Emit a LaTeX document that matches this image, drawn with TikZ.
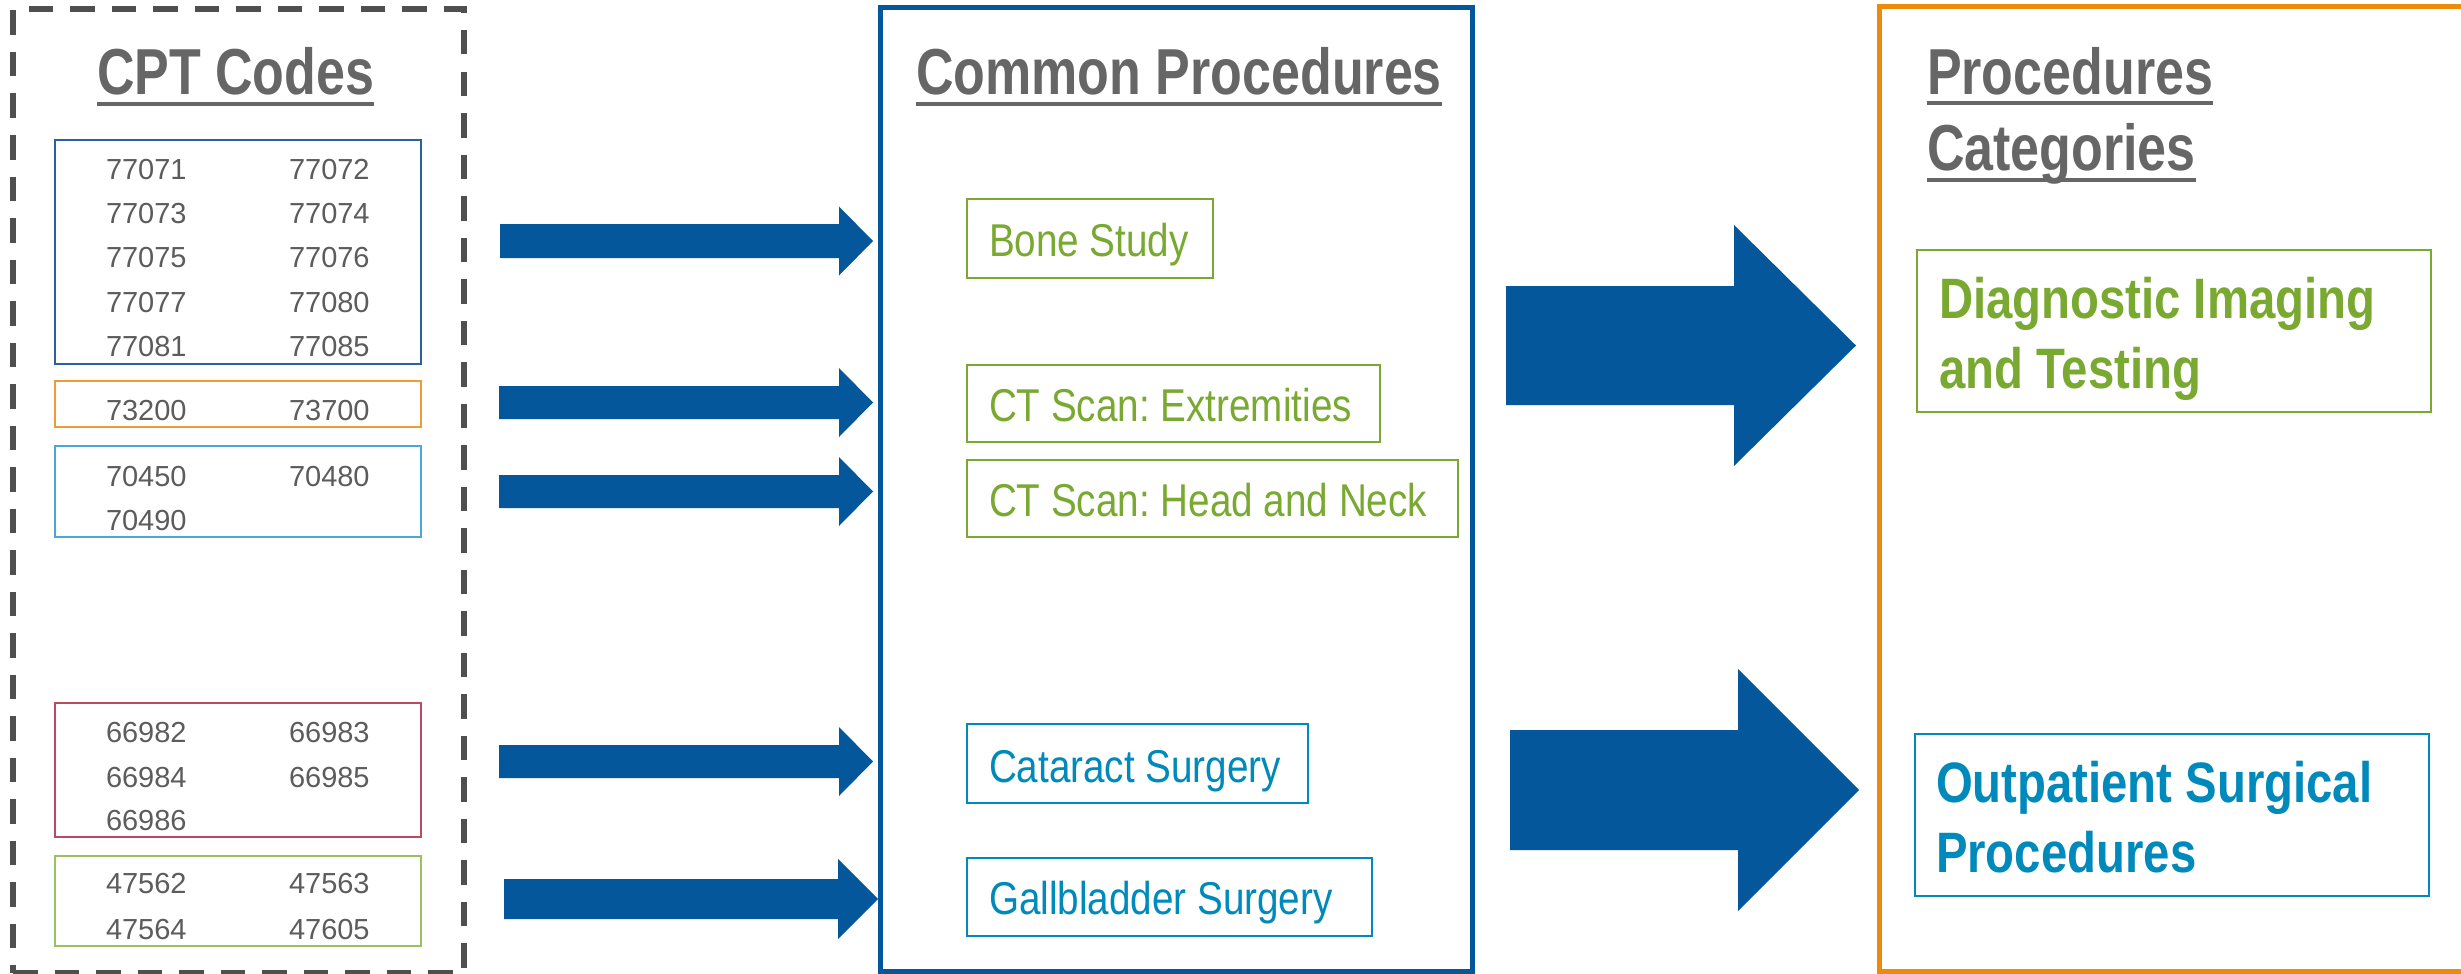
\documentclass[tikz,border=0pt]{standalone}
\usepackage{fontspec}
\setmainfont{Liberation Sans}
\newfontfamily\ttlfont{Liberation Sans}[FakeStretch=0.80]
\newfontfamily\catfont{Liberation Sans}[FakeStretch=0.83]
\newfontfamily\procfont{Liberation Sans}[FakeStretch=0.84]
\frenchspacing
\definecolor{ttlgray}{HTML}{666666}
\definecolor{codegray}{HTML}{5C5C5C}
\definecolor{dashgray}{HTML}{4F4F4F}
\definecolor{arrowblue}{HTML}{03579A}
\definecolor{cbA}{HTML}{2A62A0}
\definecolor{cbB}{HTML}{EE9B3A}
\definecolor{cbC}{HTML}{4AA8D6}
\definecolor{cbD}{HTML}{B84A62}
\definecolor{cbE}{HTML}{9BC062}
\definecolor{pgreen}{HTML}{7AA932}
\definecolor{pcyan}{HTML}{0089BB}
\definecolor{orangeb}{HTML}{EC8A0A}
\newcommand{\blockarrow}[6]{%
  \fill[arrowblue] (#1,{#4-#5}) -- (#2,{#4-#5}) -- (#2,{#4-#6}) -- (#3,#4)
    -- (#2,{#4+#6}) -- (#2,{#4+#5}) -- (#1,{#4+#5}) -- cycle;}
\begin{document}
\frenchspacing
\begin{tikzpicture}[x=1pt,y=-1pt,
  txt/.style={inner sep=0pt, outer sep=0pt, anchor=base west},
  ttl/.style={txt, text=ttlgray, font=\frenchspacing\ttlfont\bfseries\fontsize{65}{70}\selectfont},
  code/.style={txt, text=codegray, font=\fontsize{29}{32}\selectfont},
  proc/.style={txt, font=\frenchspacing\procfont\fontsize{46}{50}\selectfont},
  cat/.style={txt, font=\frenchspacing\catfont\bfseries\fontsize{57}{62}\selectfont},
  boxnode/.style={rectangle, inner sep=0pt, outer sep=0pt, anchor=north west, line width=2pt},
  uline/.style={ttlgray, line width=4pt}
]
\useasboundingbox (0,0) rectangle (2461,974);
\fill[white] (0,0) rectangle (2461,974);

% ---------- CPT codes column ----------
\node (cptframe) [boxnode, draw=dashgray, line width=6pt, dash pattern=on 24.5pt off 17pt,
  minimum width=451pt, minimum height=964pt] at (13,9) {};
\node (cpt) [ttl] at (97,95) {CPT Codes};
\draw[uline] ([yshift=-9pt]cpt.base west) -- ([yshift=-9pt]cpt.base east);

\node (cb1) [boxnode, draw=cbA, minimum width=366pt, minimum height=224pt] at (55,140) {};
\node (cb2) [boxnode, draw=cbB, minimum width=366pt, minimum height=46pt] at (55,381) {};
\node (cb3) [boxnode, draw=cbC, minimum width=366pt, minimum height=91pt] at (55,446) {};
\node (cb4) [boxnode, draw=cbD, minimum width=366pt, minimum height=134pt] at (55,703) {};
\node (cb5) [boxnode, draw=cbE, minimum width=366pt, minimum height=90pt] at (55,856) {};

\node (c1a) [code] at (106,179) {77071}; \node (c1b) [code] at (289,179) {77072};
\node (c2a) [code] at (106,223) {77073}; \node (c2b) [code] at (289,223) {77074};
\node (c3a) [code] at (106,267) {77075}; \node (c3b) [code] at (289,267) {77076};
\node (c4a) [code] at (106,312) {77077}; \node (c4b) [code] at (289,312) {77080};
\node (c5a) [code] at (106,356) {77081}; \node (c5b) [code] at (289,356) {77085};
\node (c6a) [code] at (106,420) {73200}; \node (c6b) [code] at (289,420) {73700};
\node (c7a) [code] at (106,486) {70450}; \node (c7b) [code] at (289,486) {70480};
\node (c8a) [code] at (106,530) {70490};
\node (c9a) [code] at (106,742) {66982}; \node (c9b) [code] at (289,742) {66983};
\node (c10a) [code] at (106,787) {66984}; \node (c10b) [code] at (289,787) {66985};
\node (c11a) [code] at (106,830) {66986};
\node (c12a) [code] at (106,893) {47562}; \node (c12b) [code] at (289,893) {47563};
\node (c13a) [code] at (106,939) {47564}; \node (c13b) [code] at (289,939) {47605};

% ---------- small arrows ----------
\blockarrow{500}{839}{873}{241}{17}{34.5}
\blockarrow{499}{839}{873}{402.5}{16.5}{34.5}
\blockarrow{499}{839}{873}{491.5}{16.5}{34.5}
\blockarrow{499}{839}{873}{761.5}{16.5}{34.5}
\blockarrow{504}{838}{878}{899}{20}{40}

% ---------- Common procedures column ----------
\node (cpframe) [boxnode, draw=arrowblue, line width=5pt,
  minimum width=592pt, minimum height=963pt] at (880,8) {};
\node (cp) [ttl] at (916,95) {Common Procedures};
\draw[uline] ([yshift=-9pt]cp.base west) -- ([yshift=-9pt]cp.base east);

\node (pb1) [boxnode, draw=pgreen, minimum width=246pt, minimum height=79pt] at (967,199) {};
\node (pb2) [boxnode, draw=pgreen, minimum width=413pt, minimum height=77pt] at (967,365) {};
\node (pb3) [boxnode, draw=pgreen, minimum width=491pt, minimum height=77pt] at (967,460) {};
\node (pb4) [boxnode, draw=pcyan, minimum width=341pt, minimum height=79pt] at (967,724) {};
\node (pb5) [boxnode, draw=pcyan, minimum width=405pt, minimum height=78pt] at (967,858) {};

\node (pt1) [proc, text=pgreen] at (989,256) {Bone Study};
\node (pt2) [proc, text=pgreen] at (989,421) {CT Scan: Extremities};
\node (pt3) [proc, text=pgreen] at (989,516) {CT Scan: Head and Neck};
\node (pt4) [proc, text=pcyan] at (989,782) {Cataract Surgery};
\node (pt5) [proc, text=pcyan] at (989,914) {Gallbladder Surgery};

% ---------- big arrows ----------
\blockarrow{1506}{1734}{1856}{345.5}{59.5}{120.5}
\blockarrow{1510}{1738}{1859}{790}{60}{121}

% ---------- Procedure categories column ----------
\node (pcframe) [boxnode, draw=orangeb, line width=5pt,
  minimum width=600pt, minimum height=964pt] at (1879,7) {};
\node (pc1) [ttl] at (1927,94) {Procedures};
\draw[uline] ([yshift=-9pt]pc1.base west) -- ([yshift=-9pt]pc1.base east);
\node (pc2) [ttl] at (1927,170) {Categories};
\draw[uline] ([yshift=-10pt]pc2.base west) -- ([yshift=-10pt]pc2.base east);

\node (kb1) [boxnode, draw=pgreen, minimum width=514pt, minimum height=162pt] at (1917,250) {};
\node (kt1) [cat, text=pgreen] at (1939,318) {Diagnostic Imaging};
\node (kt1b) [cat, text=pgreen] at (1939,388) {and Testing};

\node (kb2) [boxnode, draw=pcyan, minimum width=514pt, minimum height=162pt] at (1915,734) {};
\node (kt2) [cat, text=pcyan] at (1936,802) {Outpatient Surgical};
\node (kt2b) [cat, text=pcyan] at (1936,872) {Procedures};
\end{tikzpicture}
\end{document}
